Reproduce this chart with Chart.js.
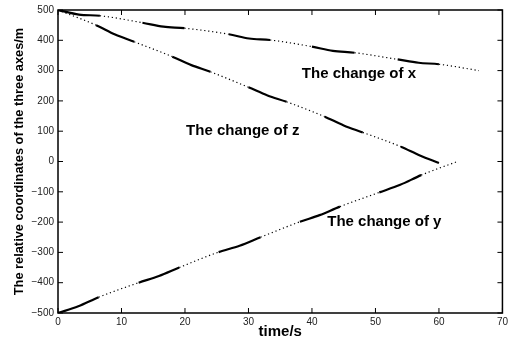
<!DOCTYPE html>
<html>
<head>
<meta charset="utf-8">
<script src="https://cdn.jsdelivr.net/npm/chart.js@4.4.0/dist/chart.umd.min.js"></script>
<style>
  html, body { margin: 0; padding: 0; background: #fff; }
</style>
</head>
<body>
<canvas id="chart" width="511" height="339"></canvas>
<script>
// time (s) / coordinate (m) for each curve, style per segment: "s" solid, "d" dotted
const xTime = [0, 3.3, 6.6, 13.3, 16.6, 19.9, 26.9, 30.1, 33.4, 40, 43.3, 46.7, 53.5, 56.8, 60, 66.3];
const xVal = [500, 485, 481, 458, 445, 440, 420, 406, 401, 379, 365, 359, 337, 326, 321, 300];
const xStyle = ["s", "s", "d", "s", "s", "d", "s", "s", "d", "s", "s", "d", "s", "s", "d"];

const zTime = [0, 6, 9, 12, 18, 21, 24, 30, 33, 36, 42, 45, 48, 54, 57, 60];
const zVal = [500, 450, 419, 395, 346, 318, 296, 245, 218, 197, 148, 119, 96, 49, 20, -5];
const zStyle = ["d", "s", "s", "d", "s", "s", "d", "s", "s", "d", "s", "s", "d", "s", "s"];

const yTime = [0, 3.2, 6.4, 12.7, 15.9, 19.1, 25.3, 28.6, 31.9, 38.1, 41.2, 44.4, 50.6, 53.9, 57.2, 62.9];
const yVal = [-500, -478, -448, -400, -378, -350, -299, -278, -250, -199, -177, -149, -102, -77, -45, 0];
const yStyle = ["s", "s", "d", "s", "s", "d", "s", "s", "d", "s", "s", "d", "s", "s", "d"];

const FONT = "'Liberation Sans', Arial, Helvetica, sans-serif";

function curve(label, times, vals, style) {
  return {
    label: label,
    data: times.map((t, i) => ({ x: t, y: vals[i] })),
    borderColor: "#000",
    borderWidth: 2.2,
    pointRadius: 0,
    cubicInterpolationMode: "monotone",
    segment: {
      borderDash: (ctx) => (style[ctx.p0DataIndex] === "d" ? [1.2, 2.8] : []),
      borderWidth: (ctx) => (style[ctx.p0DataIndex] === "d" ? 1.2 : 2.2),
    },
  };
}

// text labels placed in data coordinates
const notes = [
  { text: "The change of x", t: 47.4, v: 289 },
  { text: "The change of z", t: 29.1, v: 101 },
  { text: "The change of y", t: 51.4, v: -200 },
];

const framePlugin = {
  id: "frame",
  afterDraw(chart) {
    const { ctx, chartArea: a, scales } = chart;
    ctx.save();
    ctx.strokeStyle = "#000";
    ctx.lineWidth = 1.5;
    ctx.strokeRect(a.left, a.top, a.right - a.left, a.bottom - a.top);
    ctx.lineWidth = 1;
    ctx.beginPath();
    scales.x.ticks.forEach((t) => {
      const px = scales.x.getPixelForValue(t.value);
      ctx.moveTo(px, a.bottom);
      ctx.lineTo(px, a.bottom - 5);
      ctx.moveTo(px, a.top);
      ctx.lineTo(px, a.top + 5);
    });
    scales.y.ticks.forEach((t) => {
      const py = scales.y.getPixelForValue(t.value);
      ctx.moveTo(a.left, py);
      ctx.lineTo(a.left + 5, py);
      ctx.moveTo(a.right, py);
      ctx.lineTo(a.right - 5, py);
    });
    ctx.stroke();

    ctx.fillStyle = "#000";
    ctx.font = "bold 15px " + FONT;
    ctx.textAlign = "center";
    ctx.textBaseline = "middle";
    notes.forEach((n) => {
      ctx.fillText(n.text, scales.x.getPixelForValue(n.t), scales.y.getPixelForValue(n.v));
    });
    ctx.restore();
  },
};

window.onload = function () {
  const ctx = document.getElementById("chart").getContext("2d");
  new Chart(ctx, {
    type: "line",
    data: {
      datasets: [
        curve("x", xTime, xVal, xStyle),
        curve("z", zTime, zVal, zStyle),
        curve("y", yTime, yVal, yStyle),
      ],
    },
    options: {
      responsive: false,
      animation: false,
      layout: { padding: { top: 10, right: 6, left: 0, bottom: 0 } },
      plugins: {
        legend: { display: false },
        tooltip: { enabled: false },
      },
      scales: {
        x: {
          type: "linear",
          min: 0,
          max: 70,
          afterFit: (s) => { s.height = 26; },
          grid: { display: false, drawTicks: false },
          border: { display: false },
          ticks: {
            stepSize: 10,
            padding: 3,
            maxRotation: 0,
            color: "#222",
            font: { family: FONT, size: 10 },
          },
          title: {
            display: true,
            text: "time/s",
            color: "#000",
            padding: { top: 0, bottom: 0 },
            font: { family: FONT, size: 15, weight: "bold", lineHeight: 0.9 },
          },
        },
        y: {
          min: -500,
          max: 500,
          afterFit: (s) => { s.width = 58; },
          grid: { display: false, drawTicks: false },
          border: { display: false },
          ticks: {
            stepSize: 100,
            padding: 4,
            color: "#222",
            font: { family: FONT, size: 10 },
            callback: (v) => String(v).replace("-", "\u2212"),
          },
          title: {
            display: true,
            text: "The relative coordinates of the three axes/m",
            color: "#000",
            padding: { top: 12, bottom: 0 },
            font: { family: FONT, size: 12.8, weight: "bold", lineHeight: 1.2 },
          },
        },
      },
    },
    plugins: [framePlugin],
  });
};
</script>
</body>
</html>
